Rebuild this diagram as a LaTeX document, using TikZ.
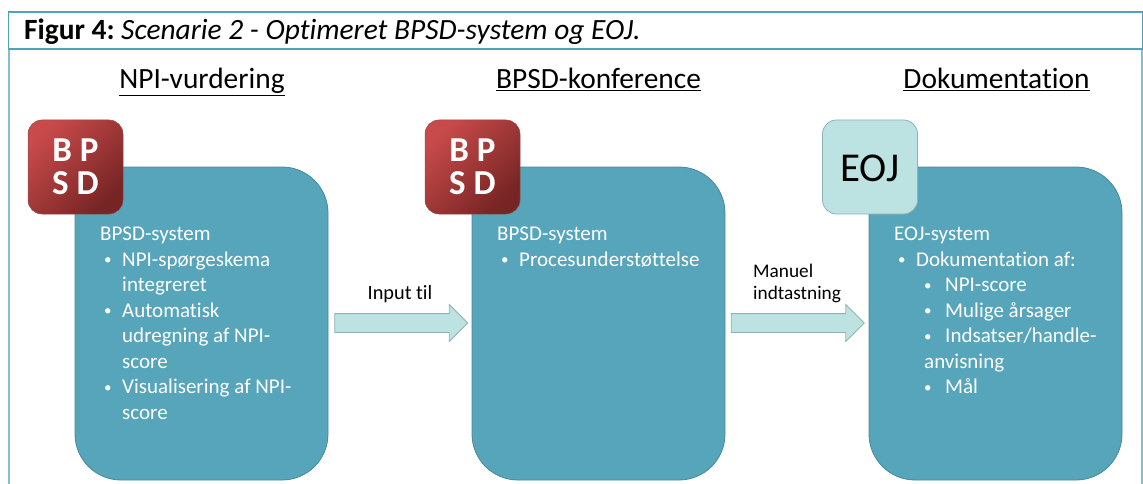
\documentclass[tikz,border=0pt]{standalone}
\usepackage{fontspec}
\setmainfont[Ligatures=NoCommon]{Carlito}
\usetikzlibrary{shapes.arrows,positioning}
\definecolor{tealbox}{HTML}{56A5BA}
\definecolor{tealedge}{HTML}{47899B}
\definecolor{titleedge}{HTML}{4FA3B8}
\definecolor{frameedge}{HTML}{86BFCC}
\definecolor{paleteal}{HTML}{BDE2E2}
\definecolor{paleedge}{HTML}{8FB3B3}
\definecolor{redlight}{HTML}{C84A4A}
\definecolor{reddark}{HTML}{762424}
\newcommand{\smallbul}{{\fontsize{15}{15}\selectfont\raisebox{1.5pt}{•}}}
\newcommand{\bulA}{\makebox[4pt][l]{}\makebox[18pt][l]{\smallbul}}
\newcommand{\bulB}{\makebox[21pt][l]{\smallbul}}
\tikzset{
  x=1pt,y=-1pt,
  sysbox/.style={draw=tealedge,line width=0.8pt,fill=tealbox,rounded corners=46pt,minimum width=253pt,minimum height=313pt,inner sep=0pt},
  redbadge/.style={draw=red!40!black!70,line width=0.5pt,top color=redlight,bottom color=reddark,shading angle=45,rounded corners=14pt,minimum width=95pt,minimum height=94pt,inner sep=0pt,text=white,align=center,font=\fontsize{35}{34}\selectfont\bfseries},
  eojbadge/.style={draw=paleedge,line width=0.8pt,fill=paleteal,rounded corners=14pt,minimum width=95pt,minimum height=94pt,inner sep=0pt,font=\fontsize{41}{46}\selectfont},
  head/.style={font=\fontsize{29.4}{34}\selectfont,inner sep=0pt,anchor=base},
  body/.style={text=white,font=\fontsize{21}{25.5}\selectfont,align=left,anchor=north west,inner sep=0pt},
  flow/.style={single arrow,draw=paleedge,line width=0.8pt,fill=paleteal,single arrow head extend=9pt,minimum height=133pt,inner xsep=0pt,inner ysep=9pt},
  lab/.style={font=\fontsize{19.3}{22}\selectfont,align=left,inner sep=0pt},
}
\begin{document}
\begin{tikzpicture}
\useasboundingbox (0,0) rectangle (1143,484);
\fill[white] (0,0) rectangle (1143,484);
\draw[frameedge,line width=1.2pt] (9,49) -- (9,484);
\draw[frameedge,line width=1.2pt] (1142,49) -- (1142,484);
\node[draw=titleedge,line width=1.5pt,minimum width=1134pt,minimum height=37pt,inner sep=0pt] (bar) at (575.5,30.5) {};
\node[font=\fontsize{29.4}{34}\selectfont,inner sep=0pt,anchor=base west] (title) at (24,40) {\textbf{Figur 4:}\hspace{6.5pt}\textit{Scenarie 2 - Optimeret BPSD-system og EOJ.}};

\node[head] (h1) at (202,89) {\underline{NPI-vurdering}};
\node[head] (h2) at (598.5,89) {\underline{BPSD-konference}};
\node[head] (h3) at (996.5,89) {\underline{Dokumentation}};

\node[sysbox] (b1) at (201.5,323.5) {};
\node[sysbox] (b2) at (598.5,323.5) {};
\node[sysbox] (b3) at (995.5,323.5) {};

\node[redbadge] (r1) at (75.5,167) {B P\\[-1pt]S D};
\node[redbadge] (r2) at (472.5,167) {B P\\[-1pt]S D};
\node[eojbadge,text depth=0pt] (e3) at (870,167) {\raisebox{-2pt}{EOJ}};

\node[body] (t1) at (100,227) {BPSD-system\\
\bulA NPI-spørgeskema\\
\makebox[22pt]{}integreret\\
\bulA Automatisk\\
\makebox[22pt]{}udregning af NPI-\\
\makebox[22pt]{}score\\
\bulA Visualisering af NPI-\\
\makebox[22pt]{}score};
\node[body] (t2) at (497,227) {BPSD-system\\
\bulA Procesunderstøttelse};
\node[body] (t3) at (894,227) {EOJ-system\\
\bulA Dokumentation af:\\
\makebox[30pt]{}\bulB NPI-score\\
\makebox[30pt]{}\bulB Mulige årsager\\
\makebox[30pt]{}\bulB Indsatser/handle-\\
\makebox[30pt]{}anvisning\\
\makebox[30pt]{}\bulB Mål};

\node[flow] (a1) at (396.5,323) {};
\node[flow] (a2) at (793,323) {};
\node[lab,anchor=base,font=\fontsize{20.3}{22}\selectfont] (l1) at (400,299) {Input til};
\node[lab,anchor=north west] (l2) at (753,264) {Manuel\\indtastning};
\end{tikzpicture}
\end{document}
